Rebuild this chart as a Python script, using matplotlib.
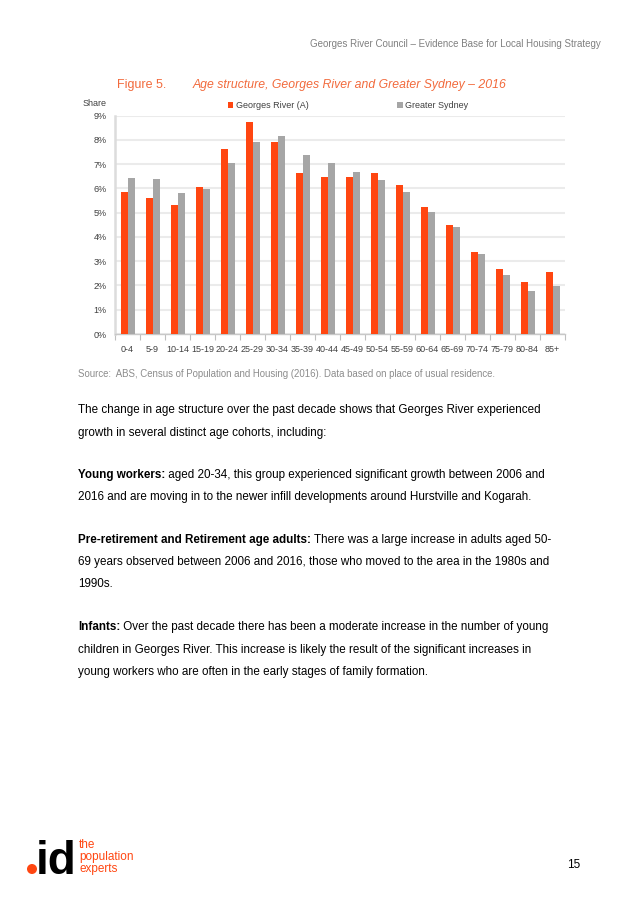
import numpy as np
import matplotlib
matplotlib.use("Agg")
import matplotlib.pyplot as plt
from matplotlib.patches import Circle

plt.rcParams['font.family'] = ['Liberation Sans', 'DejaVu Sans']

# data (share of population, %)
age_groups = ["0-4", "5-9", "10-14", "15-19", "20-24", "25-29", "30-34", "35-39",
              "40-44", "45-49", "50-54", "55-59", "60-64", "65-69", "70-74",
              "75-79", "80-84", "85+"]
georges_river = [5.84, 5.62, 5.30, 6.07, 7.63, 8.73, 7.91, 6.64,
                 6.47, 6.47, 6.64, 6.13, 5.22, 4.48, 3.39, 2.70, 2.15, 2.56]
greater_sydney = [6.43, 6.41, 5.81, 5.98, 7.06, 7.91, 8.16, 7.37,
                  7.06, 6.68, 6.35, 5.84, 5.02, 4.41, 3.30, 2.43, 1.78, 1.98]
y_ticks = [0, 1, 2, 3, 4, 5, 6, 7, 8, 9]

RED = "#ff4611"
GREY = "#a6a6a6"
ORANGE = "#f26a3c"
NARROW = ['Liberation Sans Narrow', 'Liberation Sans', 'DejaVu Sans']

W, H = 637, 901
fig = plt.figure(figsize=(W / 100, H / 100), dpi=100)


def fx(px):
    return px / W


def fy(py):
    return 1 - py / H


# header
fig.text(fx(601), fy(44), "Georges River Council \u2013 Evidence Base for Local Housing Strategy",
         ha="right", va="center", fontsize=7, color="#808080")

# figure title
fig.text(fx(117), fy(85), "Figure 5.", ha="left", va="center", fontsize=9, color=ORANGE)
fig.text(fx(193), fy(85), "Age structure, Georges River and Greater Sydney \u2013 2016",
         ha="left", va="center", fontsize=8.8, color=ORANGE, style="italic")

# chart
ax = fig.add_axes([fx(115), fy(334), fx(565) - fx(115), fy(115.7) - fy(334)])
x = np.arange(len(age_groups))
w = 0.28
b1 = ax.bar(x - w / 2, georges_river, width=w, color=RED, label="Georges River (A)", zorder=3)
b2 = ax.bar(x + w / 2, greater_sydney, width=w, color=GREY, label="Greater Sydney", zorder=3)

ax.set_xlim(-0.5, len(age_groups) - 0.5)
ax.set_ylim(0, 9)
ax.set_yticks(y_ticks)
ax.set_yticklabels([f"{t}%" for t in y_ticks], family=NARROW, fontsize=6.5, color="#404040")
ax.set_xticks(x)
ax.set_xticklabels(age_groups, family=NARROW, fontsize=6.5, color="#404040")
ax.set_xticks(np.arange(-0.5, len(age_groups)), minor=True)
ax.tick_params(axis="x", which="major", length=0, pad=8)
ax.tick_params(axis="x", which="minor", length=4, color="#bfbfbf", width=0.8)
ax.tick_params(axis="y", length=0, pad=6)
ax.grid(axis="y", color="#ebebeb", linewidth=1.5, zorder=0)
for s in ["top", "right"]:
    ax.spines[s].set_visible(False)
ax.spines["left"].set_color("#dcdcdc")
ax.spines["left"].set_linewidth(1.8)
ax.spines["bottom"].set_color("#c8c8c8")
ax.spines["bottom"].set_linewidth(1.0)

fig.text(fx(107), fy(103), "Share", ha="right", va="center", fontsize=6.5,
         color="#404040", family=NARROW)

fig.legend(handles=[b1, b2], loc="center left", bbox_to_anchor=(fx(228), fy(106)),
           ncol=2, frameon=False, prop={"family": NARROW, "size": 6.5},
           handlelength=0.6, handleheight=0.6, handletextpad=0.3, columnspacing=9.8,
           borderpad=0, borderaxespad=0, labelcolor="#404040")

# source
fig.text(fx(78), fy(374), "Source:  ABS, Census of Population and Housing (2016). "
         "Data based on place of usual residence.",
         ha="left", va="center", fontsize=6.9, color="#8c8c8c")

# body text
BODY = 8.42
lines = [
    (410, "", "The change in age structure over the past decade shows that Georges River experienced"),
    (433, "", "growth in several distinct age cohorts, including:"),
    (475, "Young workers:", " aged 20-34, this group experienced significant growth between 2006 and"),
    (497, "", "2016 and are moving in to the newer infill developments around Hurstville and Kogarah."),
    (540, "Pre-retirement and Retirement age adults:", " There was a large increase in adults aged 50-"),
    (562, "", "69 years observed between 2006 and 2016, those who moved to the area in the 1980s and"),
    (584, "", "1990s."),
    (627, "Infants:", " Over the past decade there has been a moderate increase in the number of young"),
    (650, "", "children in Georges River. This increase is likely the result of the significant increases in"),
    (672, "", "young workers who are often in the early stages of family formation."),
]
renderer = fig.canvas.get_renderer()
for py, bold, rest in lines:
    x0 = fx(78)
    if bold:
        t = fig.text(x0, fy(py), bold, ha="left", va="center", fontsize=BODY,
                     weight="bold", color="black")
        bb = t.get_window_extent(renderer=renderer)
        x0 = bb.x1 / W
    fig.text(x0, fy(py), rest, ha="left", va="center", fontsize=BODY, color="black")

# footer logo and page number
fig.patches.append(Circle((32 / 100, (H - 869) / 100), 0.043, transform=fig.dpi_scale_trans,
                          color=RED))
fig.text(fx(36), fy(874), "id", ha="left", va="baseline", fontsize=33, weight="bold",
         color="black")
fig.text(fx(79), fy(845), "the", ha="left", va="center", fontsize=8.5, color=RED, family=NARROW)
fig.text(fx(79), fy(857), "population", ha="left", va="center", fontsize=8.5, color=RED,
         family=NARROW)
fig.text(fx(79), fy(869), "experts", ha="left", va="center", fontsize=8.5, color=RED,
         family=NARROW)
fig.text(fx(574), fy(865), "15", ha="center", va="center", fontsize=8.5, color="black")

fig.savefig("out.png", dpi=100)
